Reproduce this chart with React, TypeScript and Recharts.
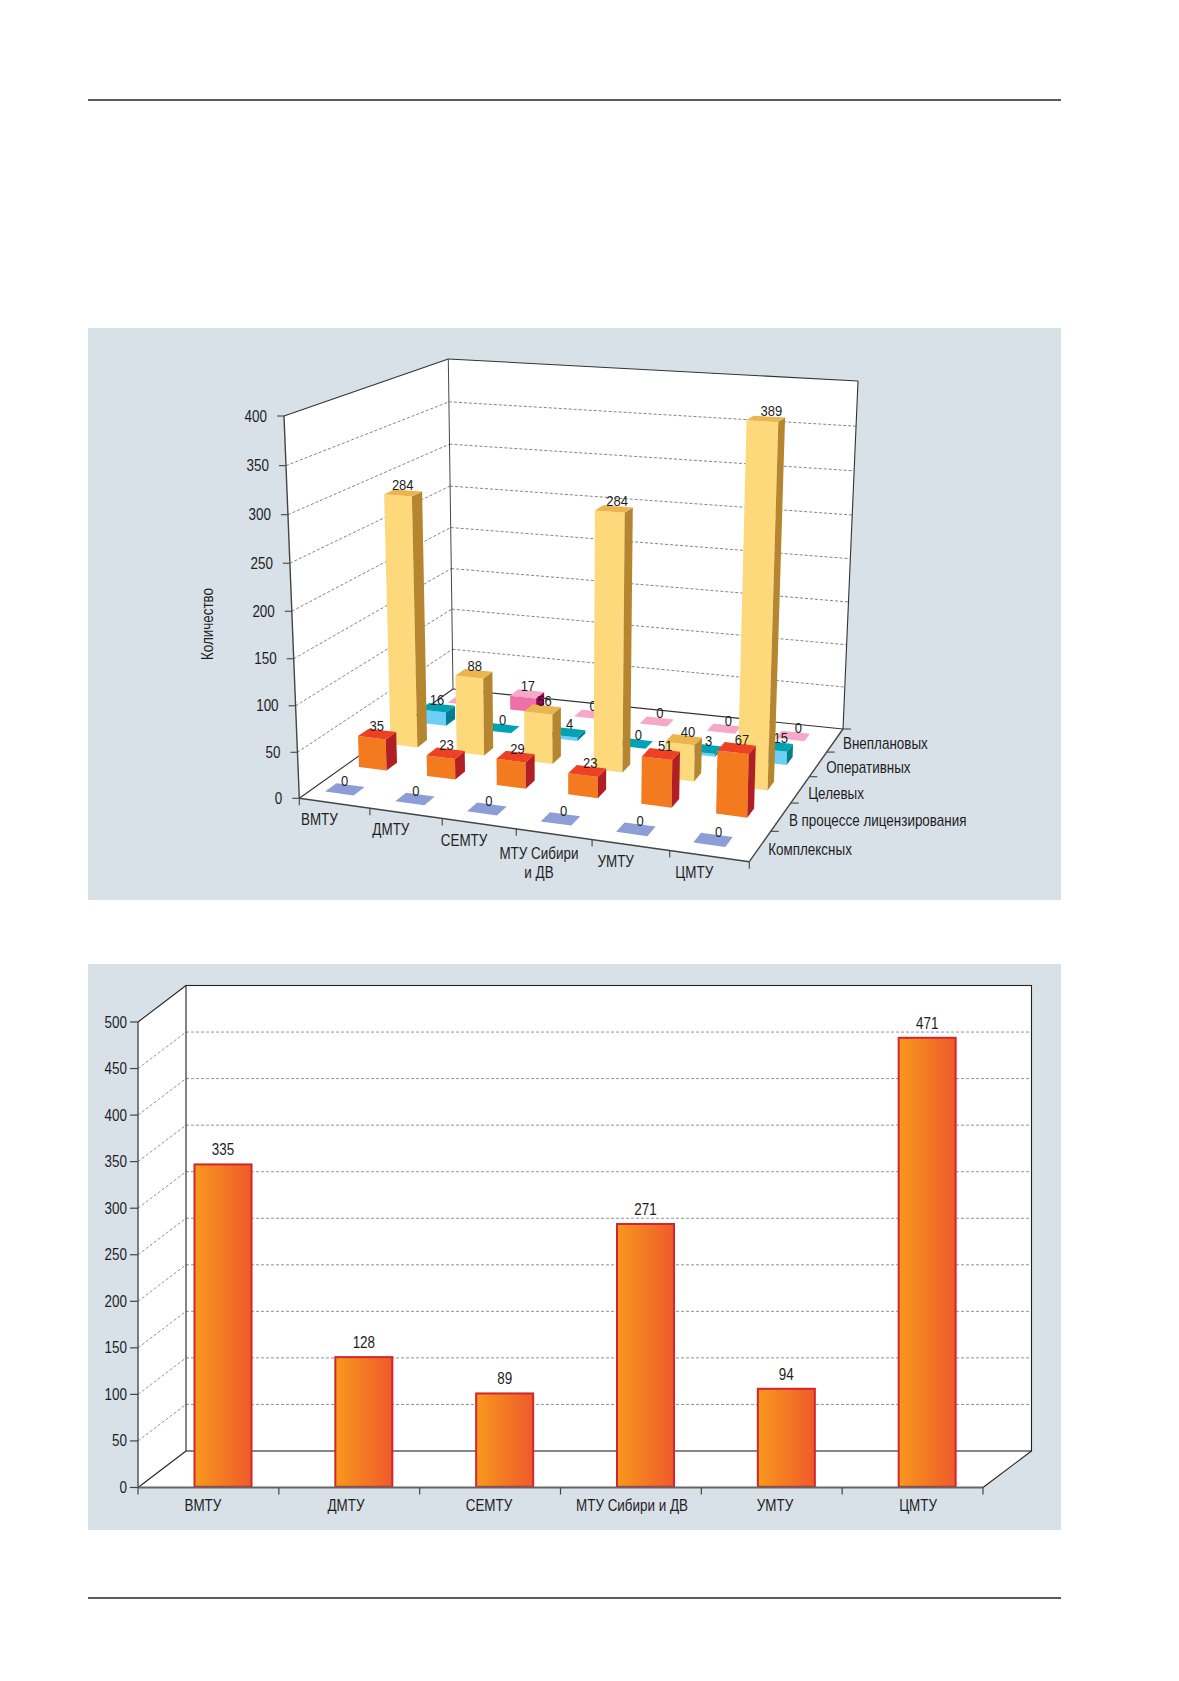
import React from "react";
import { Bar, BarChart, ComposedChart, Customized, LabelList, XAxis, YAxis } from "recharts";

// ---- data ----
const categories = ["ВМТУ", "ДМТУ", "СЕМТУ", "МТУ Сибири и ДВ", "УМТУ", "ЦМТУ"];
const seriesNames = ["Комплексных", "В процессе лицензирования", "Целевых", "Оперативных", "Внеплановых"];
const complexChecks = [0, 0, 0, 0, 0, 0];
const licensingChecks = [35, 23, 29, 23, 51, 67];
const targetChecks = [284, 88, 56, 284, 40, 389];
const operativeChecks = [16, 0, 4, 0, 3, 15];
const unplannedChecks = [0, 17, 0, 0, 0, 0];
const totalChecks = [335, 128, 89, 271, 94, 471];
const ticks3d = [0, 50, 100, 150, 200, 250, 300, 350, 400];
const ticks2d = [0, 50, 100, 150, 200, 250, 300, 350, 400, 450, 500];

const seriesValues = [complexChecks, licensingChecks, targetChecks, operativeChecks, unplannedChecks];
const data3d = categories.map((name, i) => {
    const row: any = { name };
    seriesValues.forEach((vals, k) => (row[`s${k}`] = vals[i]));
    return row;
});
const data2d = categories.map((name, i) => ({ name, total: totalChecks[i] }));

const FONT = "'Liberation Sans', Arial, sans-serif";
const SX = 0.84; // horizontal squeeze, the original uses a condensed face
const PANEL = "#d9e1e8";
const INK = "#1e1e1e";

const ROW_COLORS = [
    { front: "#8d9dd5", top: "#8d9dd5", side: "#6d7fc0" },
    { front: "#f47a20", top: "#ee4124", side: "#b01f24" },
    { front: "#fed97c", top: "#eab54e", side: "#b5852f" },
    { front: "#6ccff5", top: "#00a2b3", side: "#00808c" },
    { front: "#ef6fa9", top: "#f6a8c8", side: "#a0005b" },
];

function NText({ x, y, anchor = "middle", size = 16, rotate = 0, children }: any) {
    return (
        <text
            transform={`translate(${x},${y}) rotate(${rotate}) scale(${SX},1)`}
            textAnchor={anchor}
            fontSize={size}
            fontFamily={FONT}
            fill={INK}
        >
            {children}
        </text>
    );
}

// ---- 3D chart geometry (page coords of the box corners) ----
type Pt = [number, number];
const TOP_X = 88, TOP_Y = 328;
const W1 = 973, H1 = 572;
const M1 = { top: 40, right: 40, bottom: 40, left: 40 };
const PW1 = W1 - M1.left - M1.right;
const PH1 = H1 - M1.top - M1.bottom;

const FL: Pt = [299.3, 798.3], FR: Pt = [749.3, 861.7], BL: Pt = [453, 689], BR: Pt = [843, 729];
const TFL: Pt = [284, 416], TFR: Pt = [759.5, 446], TBL: Pt = [448.3, 359], TBR: Pt = [858, 381];

function proj(u: number, d: number, h: number): Pt {
    const a = (0.931 * u) / (1 - 0.069 * u);
    const b = (1.188 * d) / (1 + 0.188 * d);
    const c = (0.958 * h) / (1 - 0.042 * h);
    const mix = (p00: Pt, p10: Pt, p01: Pt, p11: Pt, k: number) =>
        (1 - a) * (1 - b) * p00[k] + a * (1 - b) * p10[k] + (1 - a) * b * p01[k] + a * b * p11[k];
    const fx = mix(FL, FR, BL, BR, 0), fy = mix(FL, FR, BL, BR, 1);
    const tx = mix(TFL, TFR, TBL, TBR, 0), ty = mix(TFL, TFR, TBL, TBR, 1);
    return [fx + c * (tx - fx) - TOP_X, fy + c * (ty - fy) - TOP_Y];
}

const pts = (list: number[][]) =>
    list.map(([u, d, h]) => proj(u, d, h).map((n) => n.toFixed(1)).join(",")).join(" ");

function Prism(props: any) {
    const { x, y, width, row, val } = props;
    const band = (x + width / 2 - M1.left) / PW1;
    const u = band - 0.016;
    const h = Math.max(0, (M1.top + PH1 - y) / PH1);
    const d = (row + 0.5) / seriesNames.length;
    const u0 = u - 0.034, u1 = u + 0.034, d0 = d - 0.033, d1 = d + 0.033;
    const col = ROW_COLORS[row];
    const lab = proj(u, d, h);
    return (
        <g>
            {h > 0 && <polygon points={pts([[u0, d0, 0], [u1, d0, 0], [u1, d0, h], [u0, d0, h]])} fill={col.front} />}
            {h > 0 && <polygon points={pts([[u1, d0, 0], [u1, d1, 0], [u1, d1, h], [u1, d0, h]])} fill={col.side} />}
            <polygon points={pts([[u0, d0, h], [u1, d0, h], [u1, d1, h], [u0, d1, h]])} fill={col.top} />
            <NText x={lab[0] - 1 + 7 * band} y={lab[1] - 3} size={15.5}>
                {val}
            </NText>
        </g>
    );
}

function Frame3D() {
    const line = (a: Pt, b: Pt, key: string, extra: any = {}) => (
        <line key={key} x1={a[0]} y1={a[1]} x2={b[0]} y2={b[1]} stroke="#333" strokeWidth={1.1} {...extra} />
    );
    const n = categories.length;
    return (
        <g>
            <polygon points={pts([[0, 0, 0], [0, 0, 1], [0, 1, 1], [0, 1, 0]])} fill="#fff" />
            <polygon points={pts([[0, 1, 0], [0, 1, 1], [1, 1, 1], [1, 1, 0]])} fill="#fff" />
            <polygon points={pts([[0, 0, 0], [1, 0, 0], [1, 1, 0], [0, 1, 0]])} fill="#fff" />
            {ticks3d.slice(1, -1).map((v) => {
                const h = v / 400;
                return (
                    <g key={`g${v}`}>
                        {line(proj(0, 0, h), proj(0, 1, h), `l${v}`, { stroke: "#666", strokeWidth: 0.8, strokeDasharray: "3 2" })}
                        {line(proj(0, 1, h), proj(1, 1, h), `b${v}`, { stroke: "#666", strokeWidth: 0.8, strokeDasharray: "3 2" })}
                    </g>
                );
            })}
            {line(proj(0, 0, 1), proj(0, 1, 1), "e1")}
            {line(proj(0, 1, 1), proj(1, 1, 1), "e2")}
            {line(proj(0, 1, 0), proj(0, 1, 1), "e3", { strokeWidth: 0.9 })}
            {line(proj(1, 1, 0), proj(1, 1, 1), "e4")}
            {line(proj(0, 1, 0), proj(1, 1, 0), "e5")}
            {line(proj(0, 0, 0), proj(0, 1, 0), "e6")}
            {line(proj(0, 0, 0), proj(0, 0, 1), "ay", { stroke: "#444", strokeWidth: 1.4 })}
            {line(proj(0, 0, 0), proj(1, 0, 0), "ax", { stroke: "#444", strokeWidth: 1.4 })}
            {line(proj(1, 0, 0), proj(1, 1, 0), "az", { stroke: "#444", strokeWidth: 1.4 })}
            {ticks3d.map((v) => {
                const p = proj(0, 0, v / 400);
                return (
                    <g key={`t${v}`}>
                        {line([p[0] - 7, p[1]], p, `tl${v}`, { stroke: "#444" })}
                        <NText x={p[0] - 17} y={p[1] + 5.5} anchor="end" size={16}>
                            {v}
                        </NText>
                    </g>
                );
            })}
            {categories.map((c, i) => {
                const t = proj(i / n, 0, 0);
                const m = proj((i + 0.5) / n, 0, 0);
                const parts = c === "МТУ Сибири и ДВ" ? ["МТУ Сибири", "и ДВ"] : [c];
                return (
                    <g key={`c${i}`}>
                        {line(t, [t[0], t[1] + 7], `ct${i}`, { stroke: "#444" })}
                        {parts.map((s, j) => (
                            <NText key={s} x={m[0] - 15} y={m[1] + (parts.length > 1 ? 25 : 22) + j * 19} size={16}>
                                {s}
                            </NText>
                        ))}
                    </g>
                );
            })}
            {(() => {
                const t = proj(1, 0, 0);
                return line(t, [t[0], t[1] + 7], "ctEnd", { stroke: "#444" });
            })()}
            {seriesNames.map((s, k) => {
                const t = proj(1, (k + 1) / seriesNames.length, 0);
                const m = proj(1, (k + 0.5) / seriesNames.length, 0);
                return (
                    <g key={`s${k}`}>
                        {line(t, [t[0] + 8, t[1]], `st${k}`, { stroke: "#444" })}
                        <NText x={m[0] + 8} y={m[1] + 9} anchor="start" size={16}>
                            {s}
                        </NText>
                    </g>
                );
            })}
            <NText x={208 - TOP_X + 5} y={624 - TOP_Y} rotate={-90} size={16}>
                Количество
            </NText>
        </g>
    );
}

// ---- 2D chart geometry (local coords) ----
const W2 = 973, H2 = 566;
const P2 = { left: 50, right: 895, top: 58, bottom: 523.5 };
const DX = 48, DY = -36.5;
const LIFT = 11.2; // bars stand a little way into the box
const BAND2 = (P2.right - P2.left) / categories.length;
const vy = (v: number) => P2.bottom - ((P2.bottom - P2.top) * v) / 500;

function Frame2D() {
    const box = [
        [P2.left, P2.bottom], [P2.left, P2.top], [P2.left + DX, P2.top + DY],
        [P2.right + DX + 0.5, P2.top + DY], [P2.right + DX + 0.5, P2.bottom + DY], [P2.right, P2.bottom],
    ].map((p) => p.join(",")).join(" ");
    const bx0 = P2.left + DX, bx1 = P2.right + DX + 0.5;
    return (
        <g>
            <polygon points={box} fill="#fff" />
            {ticks2d.slice(1, -1).map((v) => (
                <g key={v}>
                    <line x1={P2.left} y1={vy(v)} x2={bx0} y2={vy(v) + DY} stroke="#777" strokeWidth={0.8} strokeDasharray="3 2" />
                    <line x1={bx0} y1={vy(v) + DY} x2={bx1} y2={vy(v) + DY} stroke="#777" strokeWidth={0.8} strokeDasharray="3 2" />
                </g>
            ))}
            <rect x={bx0} y={P2.top + DY} width={bx1 - bx0} height={P2.bottom - P2.top} fill="none" stroke="#222" strokeWidth={1.1} />
            <line x1={P2.left} y1={P2.top} x2={bx0} y2={P2.top + DY} stroke="#222" strokeWidth={1.1} />
            <line x1={P2.left} y1={P2.bottom} x2={bx0} y2={P2.bottom + DY} stroke="#222" strokeWidth={1.1} />
            <line x1={P2.right} y1={P2.bottom} x2={bx1} y2={P2.bottom + DY} stroke="#222" strokeWidth={1.1} />
        </g>
    );
}

function CatTick(props: any) {
    const { x, payload, index } = props;
    const left = x - BAND2 / 2;
    return (
        <g>
            <line x1={left} x2={left} y1={P2.bottom} y2={P2.bottom + 7} stroke="#444" strokeWidth={1.2} />
            {index === categories.length - 1 && (
                <line x1={x + BAND2 / 2} x2={x + BAND2 / 2} y1={P2.bottom} y2={P2.bottom + 7} stroke="#444" strokeWidth={1.2} />
            )}
            <NText x={x + (index - 2.5) * 2.2} y={P2.bottom + 23} size={16}>
                {payload.value}
            </NText>
        </g>
    );
}

function ValueTick(props: any) {
    const { x, y, payload } = props;
    return (
        <NText x={x} y={y + 5.5} anchor="end" size={16}>
            {payload.value}
        </NText>
    );
}

function TotalBar(props: any) {
    const { x, y, width, height } = props;
    return <rect x={x} y={y - LIFT} width={width} height={height + LIFT - 0.7} fill="url(#totalGrad)" stroke="#d2262c" strokeWidth={2} />;
}

export default function App() {
    const order = [4, 3, 2, 1, 0];
    return (
        <div style={{ position: "absolute", left: 0, top: 0, width: 1179, height: 1681, background: "#fff" }}>
            <svg width={0} height={0} style={{ position: "absolute" }}>
                <defs>
                    <linearGradient id="totalGrad" x1="0" y1="0" x2="1" y2="0">
                        <stop offset="0%" stopColor="#f8981d" />
                        <stop offset="100%" stopColor="#ef5a2b" />
                    </linearGradient>
                </defs>
            </svg>
            <div style={{ position: "absolute", left: 88, top: 99, width: 973, height: 2, background: "#5b5b5b" }} />
            <div style={{ position: "absolute", left: 88, top: 1597, width: 973, height: 2, background: "#5b5b5b" }} />

            <div style={{ position: "absolute", left: TOP_X, top: TOP_Y, width: W1, height: H1, background: PANEL }}>
                <ComposedChart width={W1} height={H1} data={data3d} margin={M1}>
                    {order.map((k) => (
                        <XAxis key={`x${k}`} xAxisId={`s${k}`} dataKey="name" hide />
                    ))}
                    <YAxis yAxisId="v" domain={[0, 400]} hide />
                    <Customized component={<Frame3D />} />
                    {order.map((k) => (
                        <Bar
                            key={`b${k}`}
                            xAxisId={`s${k}`}
                            yAxisId="v"
                            dataKey={`s${k}`}
                            name={seriesNames[k]}
                            barSize={10}
                            isAnimationActive={false}
                            shape={(p: any) => <Prism {...p} row={k} val={p.payload[`s${k}`]} />}
                        />
                    ))}
                </ComposedChart>
            </div>

            <div style={{ position: "absolute", left: 88, top: 964, width: W2, height: H2, background: PANEL }}>
                <BarChart width={W2} height={H2} data={data2d} margin={{ top: P2.top, right: W2 - P2.right, bottom: 12.5, left: 6 }}>
                    <Customized component={<Frame2D />} />
                    <XAxis
                        xAxisId="front"
                        dataKey="name"
                        height={30}
                        interval={0}
                        axisLine={{ stroke: "#666", strokeWidth: 2 }}
                        tickLine={false}
                        tick={<CatTick />}
                    />
                    <XAxis xAxisId="bars" dataKey="name" orientation="top" height={0} hide padding={{ left: 14.5, right: -14.5 }} />
                    <YAxis
                        yAxisId="front"
                        width={44}
                        domain={[0, 500]}
                        ticks={ticks2d}
                        interval={0}
                        allowDataOverflow
                        axisLine={{ stroke: "#555", strokeWidth: 1.5 }}
                        tickLine={{ stroke: "#444", strokeWidth: 1.2 }}
                        tickSize={8}
                        tickMargin={3}
                        tick={<ValueTick />}
                    />
                    <Bar xAxisId="bars" yAxisId="front" dataKey="total" barSize={57} shape={<TotalBar />} isAnimationActive={false}>
                        <LabelList
                            dataKey="total"
                            content={(p: any) => (
                                <NText x={p.x + p.width / 2} y={p.y - LIFT - 9} size={16}>
                                    {p.value}
                                </NText>
                            )}
                        />
                    </Bar>
                </BarChart>
            </div>
        </div>
    );
}
